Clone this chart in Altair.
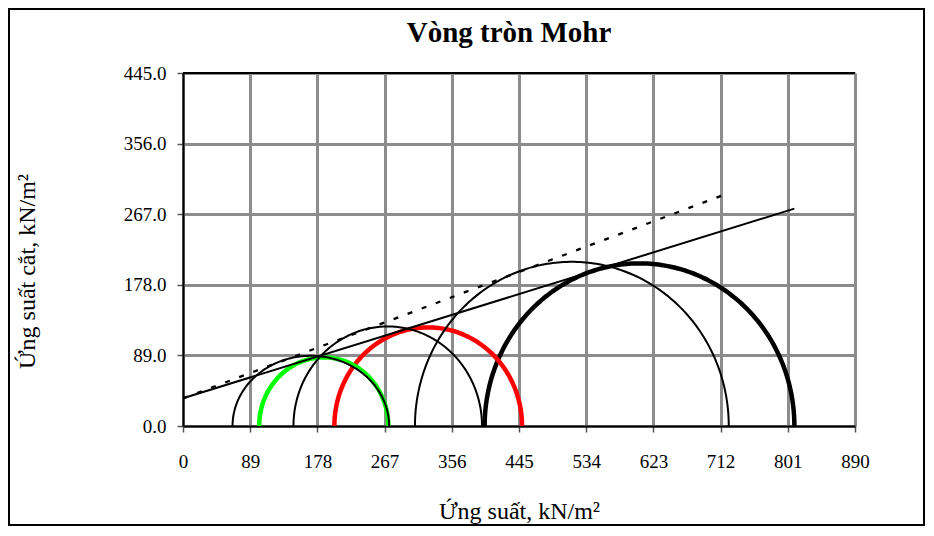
import altair as alt
import numpy as np
import pandas as pd

# ---- data ----
x_ticks = [0, 89, 178, 267, 356, 445, 534, 623, 712, 801, 890]
y_ticks = [0, 89, 178, 267, 356, 445]

# Mohr circles (drawing order): sigma3, sigma1, peak shear, colour, line width
circle_names = ["thick", "red", "green", "thinA", "thinB", "thinC"]
sigma3 = [399.5, 200.5, 100.9, 65.6, 146.3, 307.2]
sigma1 = [809.7, 449.0, 271.9, 273.0, 396.0, 722.8]
tau_peak = [205.0, 124.3, 86.5, 88.5, 125.5, 207.0]
circle_colors = ["#000000", "#ff0000", "#00ff00", "#000000", "#000000", "#000000"]
circle_widths = [4.5, 4.5, 4.5, 2.0, 2.0, 2.0]

# failure envelopes
solid_sigma = [0.0, 809.7]
solid_tau = [35.0, 274.0]
dotted_sigma = [0.0, 724.5]
dotted_tau = [34.9, 294.3]

title_text = "Vòng tròn Mohr"

FONT = "Liberation Serif"
W, H = 672, 353
PAD = {"left": 175, "top": 65, "right": 70, "bottom": 100}

x_enc = alt.X(
    "sigma:Q",
    scale=alt.Scale(domain=[0, 890], nice=False, zero=False),
    axis=alt.Axis(
        values=x_ticks, format="d", title="Ứng suất,  kN/m²",
        titleY=92, titleBaseline="alphabetic",
        labelPadding=20, labelFlush=False, labelOverlap=False,
    ),
)
y_enc = alt.Y(
    "tau:Q",
    scale=alt.Scale(domain=[0, 445], nice=False, zero=False),
    axis=alt.Axis(
        values=y_ticks, format=".1f", title="Ứng suất cắt,  kN/m²",
        titleX=-149, titleY=198, titleBaseline="alphabetic", titleAlign="center",
        labelPadding=11, labelFlush=False, labelOverlap=False,
    ),
)

layers = []
one = pd.DataFrame({"a": [0]})

theta = np.linspace(0, np.pi, 181)
for name, s3, s1, pk, col, w in zip(circle_names, sigma3, sigma1, tau_peak, circle_colors, circle_widths):
    c = (s1 + s3) / 2.0
    r = (s1 - s3) / 2.0
    df = pd.DataFrame({
        "idx": np.arange(len(theta)),
        "sigma": c + r * np.cos(theta),
        "tau": pk * np.sin(theta),
    })
    layers.append(
        alt.Chart(df).mark_line(color=col, strokeWidth=w, strokeCap="butt").encode(
            x=x_enc, y=y_enc, order="idx:Q"
        )
    )

solid_df = pd.DataFrame({"sigma": solid_sigma, "tau": solid_tau})
dotted_df = pd.DataFrame({"sigma": dotted_sigma, "tau": dotted_tau})
layers.append(alt.Chart(solid_df).mark_line(color="black", strokeWidth=2).encode(x=x_enc, y=y_enc))
layers.append(alt.Chart(dotted_df).mark_line(color="black", strokeWidth=2.3, strokeDash=[5, 10]).encode(x=x_enc, y=y_enc))

top_border = alt.Chart(one).mark_rule(color="black", strokeWidth=2).encode(
    x=alt.value(0), x2=alt.value(W), y=alt.value(0)
)

svg_w = PAD["left"] + W + PAD["right"]
svg_h = PAD["top"] + H + PAD["bottom"]
frame = alt.Chart(one).mark_rect(fill="transparent", stroke="black", strokeWidth=2).encode(
    x=alt.value(-PAD["left"] + 1), x2=alt.value(svg_w - PAD["left"] - 1),
    y=alt.value(-PAD["top"] + 1), y2=alt.value(svg_h - PAD["top"] - 1),
)

title = alt.Chart(one).mark_text(
    text=title_text, font=FONT, fontSize=29, fontWeight="bold", color="black",
    align="center", baseline="alphabetic",
).encode(x=alt.value(326), y=alt.value(-31))

chart = alt.layer(*layers, top_border, frame, title).properties(
    width=W, height=H,
    padding=PAD,
    autosize=alt.AutoSizeParams(type="none"),
    background="white",
).configure_axis(
    labelFont=FONT, labelFontSize=19, labelColor="black",
    titleFont=FONT, titleFontSize=24, titleFontWeight="normal", titleColor="black",
    domainColor="black", domainWidth=2,
    tickColor="#555555", tickWidth=1.5, tickSize=6,
    gridColor="#8c8c8c", gridWidth=3, gridOpacity=1,
).configure_view(stroke=None)

chart.save("out.html", embed_options={"renderer": "svg", "actions": False})
